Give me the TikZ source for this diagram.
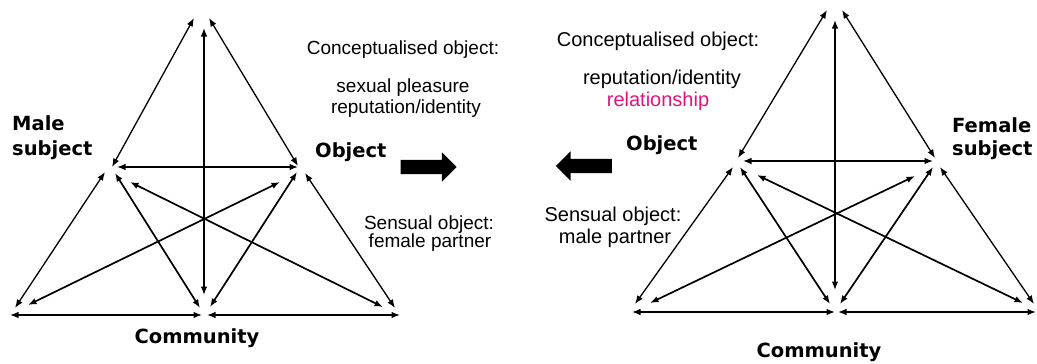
\documentclass[tikz,border=0pt]{standalone}
\usepackage{fontspec}
\setmainfont{Liberation Sans}
\newfontfamily\labelfont{DejaVu Sans}
\usetikzlibrary{arrows.meta,shapes.arrows}
\definecolor{relpink}{RGB}{222,20,122}

\begin{document}
\begin{tikzpicture}[x=1pt,y=-1pt,
  tip/.tip={Latex[length=8.5pt,width=6.5pt]},
  link/.style={tip-tip, line width=1.3pt},
  cross/.style={link, line width=1.7pt},
  role/.style={font=\labelfont\bfseries\fontsize{19.5}{22}\selectfont, inner sep=0pt},
  note/.style={font=\fontsize{19}{21}\selectfont, inner sep=0pt},
  noteR/.style={font=\fontsize{20}{22}\selectfont, inner sep=0pt},
  block/.style={single arrow, fill=black, draw=none, inner xsep=0pt, inner ysep=7pt,
    minimum height=56pt, single arrow head extend=7.5pt}]
\useasboundingbox (0,0) rectangle (1037,364);

% ---------- male activity system ----------
\coordinate (mA1) at (194,18);  \coordinate (mA2) at (209,18);  \coordinate (mA3) at (204,28);
\coordinate (mL1) at (112,167); \coordinate (mL2) at (117,167); \coordinate (mL3) at (105,172);
\coordinate (mL4) at (115,173); \coordinate (mL5) at (130,182);
\coordinate (mR1) at (298,166); \coordinate (mR2) at (298,167); \coordinate (mR3) at (280,182);
\coordinate (mR4) at (297,172); \coordinate (mR5) at (305,173);
\coordinate (mB0) at (204,295);
\coordinate (mBL1) at (15,308);  \coordinate (mBL2) at (28,305);  \coordinate (mBL3) at (10,315);
\coordinate (mBM1) at (200,308); \coordinate (mBM2) at (210,307);
\coordinate (mBM3) at (202,315); \coordinate (mBM4) at (207,315);
\coordinate (mBR1) at (383,307); \coordinate (mBR2) at (395,308); \coordinate (mBR3) at (400,315);

\draw[link] (mA1) -- (mL1);
\draw[link] (mA2) -- (mR1);
\draw[link] (mA3) -- (mB0);
\draw[link] (mL2) -- (mR2);
\draw[link] (mL3) -- (mBL1);
\draw[cross] (mL4) -- (mBM1);
\draw[cross] (mL5) -- (mBR1);
\draw[cross] (mR3) -- (mBL2);
\draw[cross] (mR4) -- (mBM2);
\draw[link] (mR5) -- (mBR2);
\draw[link] (mBL3) -- (mBM3);
\draw[link] (mBM4) -- (mBR3);

\node[role, anchor=base west] (maleA) at (12,130) {Male};
\node[role, anchor=base west] (maleB) at (12,155) {subject};
\node[role, anchor=base west] (objM) at (315,157) {Object};
\node[role, anchor=base] (comM) at (197,343) {Community};

\node[note, anchor=base] (conM) at (403,54) {Conceptualised object:};
\node[note, anchor=base] (conM1) at (403,92) {sexual pleasure};
\node[note, anchor=base] (conM2) at (406,113) {reputation/identity};
\node[note, anchor=base] (senM1) at (429,229) {Sensual object:};
\node[note, anchor=base] (senM2) at (430,247) {female partner};

\node[block] (arrM) at (425,167) {};

% ---------- female activity system ----------
\coordinate (fA1) at (827,10);  \coordinate (fA2) at (842,10);  \coordinate (fA3) at (835,20);
\coordinate (fL1) at (738,158); \coordinate (fL2) at (743,161); \coordinate (fL3) at (733,167);
\coordinate (fL4) at (740,167); \coordinate (fL5) at (757,175);
\coordinate (fR1) at (935,158); \coordinate (fR2) at (933,161); \coordinate (fR3) at (915,176);
\coordinate (fR4) at (933,167); \coordinate (fR5) at (940,167);
\coordinate (fB0) at (835,290);
\coordinate (fBL1) at (635,304); \coordinate (fBL2) at (650,303); \coordinate (fBL3) at (632,312);
\coordinate (fBM1) at (830,304); \coordinate (fBM2) at (840,304);
\coordinate (fBM3) at (835,312); \coordinate (fBM4) at (838,312);
\coordinate (fBR1) at (1023,303); \coordinate (fBR2) at (1034,304); \coordinate (fBR3) at (1036,312);

\draw[link] (fA1) -- (fL1);
\draw[link] (fA2) -- (fR1);
\draw[link] (fA3) -- (fB0);
\draw[link] (fL2) -- (fR2);
\draw[link] (fL3) -- (fBL1);
\draw[cross] (fL4) -- (fBM1);
\draw[cross] (fL5) -- (fBR1);
\draw[cross] (fR3) -- (fBL2);
\draw[cross] (fR4) -- (fBM2);
\draw[link] (fR5) -- (fBR2);
\draw[link] (fBL3) -- (fBM3);
\draw[link] (fBM4) -- (fBR3);

\node[role, anchor=base west] (femA) at (952,132) {Female};
\node[role, anchor=base west] (femB) at (952,155) {subject};
\node[role, anchor=base west] (objF) at (626,150) {Object};
\node[role, anchor=base] (comF) at (819,357) {Community};

\node[noteR, anchor=base] (conF) at (658,46) {Conceptualised object:};
\node[noteR, anchor=base] (conF1) at (662,84) {reputation/identity};
\node[noteR, anchor=base, text=relpink] (conF2) at (658,106) {relationship};
\node[noteR, anchor=base] (senF1) at (613,221) {Sensual object:};
\node[noteR, anchor=base] (senF2) at (615,243) {male partner};

\node[block, shape border rotate=180] (arrF) at (587.5,166) {};
\end{tikzpicture}
\end{document}
